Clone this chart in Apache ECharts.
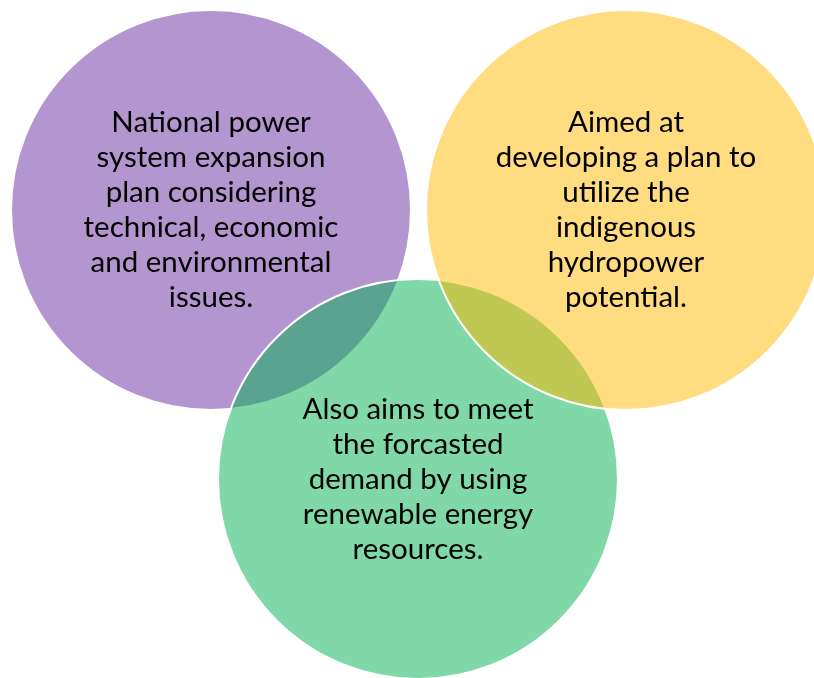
<!DOCTYPE html>
<html>
<head>
<meta charset="utf-8">
<script src="https://cdn.jsdelivr.net/npm/echarts@6/dist/echarts.min.js"></script>
<style>
  html, body { margin: 0; padding: 0; background: #fff; }
  #chart { width: 814px; height: 678px; }
</style>
</head>
<body>
<div id="chart"></div>
<script>
// circles of the venn diagram, in diagram units (x right, y down)
const circleX = [211, 418, 626];
const circleY = [210, 479, 210];
const circleR = [200, 200, 200];
const circleText = [
  ['National power', 'system expansion', 'plan considering', 'technical, economic', 'and environmental', 'issues.'],
  ['Also aims to meet', 'the forcasted', 'demand by using', 'renewable energy', 'resources.'],
  ['Aimed at', 'developing a plan to', 'utilize the', 'indigenous', 'hydropower', 'potential.']
];

// 50% transparent fills, like the SmartArt venn
const palette = ['rgba(103,45,159,0.5)', 'rgba(1,177,81,0.5)', 'rgba(255,185,0,0.5)'];

const chart = echarts.init(document.getElementById('chart'));

const option = {
  animation: false,
  grid: { left: 0, right: 0, top: 0, bottom: 0 },
  xAxis: { type: 'value', min: 0, max: 814, show: false },
  yAxis: { type: 'value', min: 0, max: 678, inverse: true, show: false },
  series: [
    {
      type: 'custom',
      coordinateSystem: 'cartesian2d',
      data: circleX.map((x, i) => [x, circleY[i], circleR[i]]),
      renderItem: function (params, api) {
        const i = params.dataIndex;
        const c = api.coord([api.value(0), api.value(1)]);
        const r = api.size([api.value(2), 0])[0];
        return {
          type: 'group',
          children: [
            {
              type: 'circle',
              z2: i,
              shape: { cx: c[0], cy: c[1], r: r },
              style: { fill: palette[i], stroke: '#fff', lineWidth: 2 }
            },
            {
              type: 'text',
              z2: 10,
              x: c[0],
              y: c[1],
              style: {
                text: circleText[i].join('\n'),
                fill: '#000',
                font: '29.5px Lato',
                align: 'center',
                verticalAlign: 'middle',
                lineHeight: 35
              }
            }
          ]
        };
      }
    }
  ]
};

chart.setOption(option);
</script>
</body>
</html>
